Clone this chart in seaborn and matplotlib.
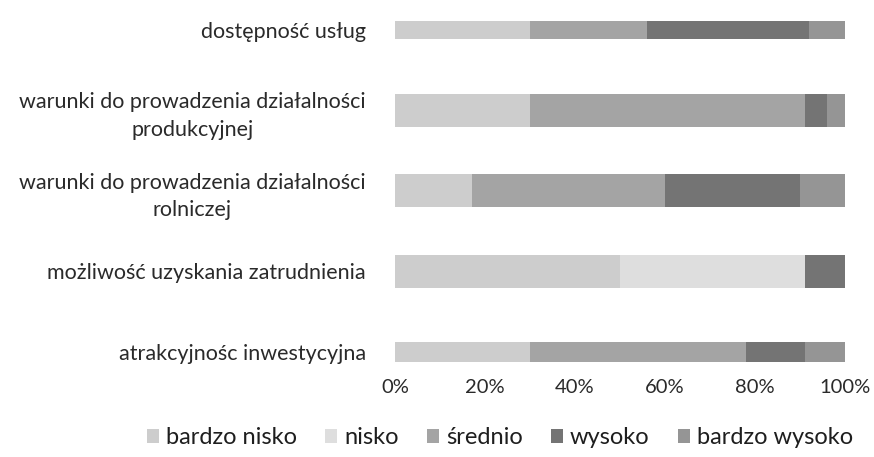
import matplotlib
matplotlib.use("Agg")
import matplotlib.pyplot as plt
import seaborn as sns
import numpy as np
import pandas as pd
from matplotlib.patches import Patch

categories = [
    "dostępność usług",
    "warunki do prowadzenia działalności\nprodukcyjnej",
    "warunki do prowadzenia działalności\nrolniczej",
    "możliwość uzyskania zatrudnienia",
    "atrakcyjnośc inwestycyjna",
]
series_names = ["bardzo nisko", "nisko", "średnio", "wysoko", "bardzo wysoko"]
bardzo_nisko = [30, 30, 17, 50, 30]
nisko = [0, 0, 0, 41, 0]
srednio = [26, 61, 43, 0, 48]
wysoko = [36, 5, 30, 9, 13]
bardzo_wysoko = [8, 4, 10, 0, 9]
tick_labels = ["0%", "20%", "40%", "60%", "80%", "100%"]

colors = ["#cdcdcd", "#dedede", "#a4a4a4", "#747474", "#959595"]

sns.set_theme(style="white")
plt.rcParams["font.family"] = ["Lato", "DejaVu Sans"]

fig = plt.figure(figsize=(8.74, 4.57), dpi=100)
ax = fig.add_axes([395 / 874, 1 - 372 / 457, 450 / 874, 367 / 457])

series = [bardzo_nisko, nisko, srednio, wysoko, bardzo_wysoko]
cum = np.cumsum(np.array(series, dtype=float), axis=0) / 100.0

# draw from total down so each layer covers the previous
for i in range(len(series) - 1, -1, -1):
    df = pd.DataFrame({"cat": categories, "val": cum[i]})
    sns.barplot(data=df, x="val", y="cat", orient="h", color=colors[i],
                width=0.41, ax=ax, saturation=1, linewidth=0)

# top and bottom bars appear thinner in the reference
thin = {0: 0.22, 4: 0.25}
for p in ax.patches:
    yc = p.get_y() + p.get_height() / 2
    idx = int(round(yc))
    if idx in thin:
        h = thin[idx]
        p.set_y(yc - h / 2)
        p.set_height(h)

ax.set_xlim(0, 1)
ax.set_ylim(4.25, -0.31)
ax.set_xticks(np.linspace(0, 1, 6))
ax.set_xticklabels(tick_labels)
ax.set_xlabel("")
ax.set_ylabel("")
for s in ax.spines.values():
    s.set_visible(False)
ax.tick_params(axis="x", length=0, pad=5, labelsize=14.5, labelcolor="#2a2a2a")
ax.tick_params(axis="y", length=0, pad=21, labelsize=15.5, labelcolor="#2a2a2a")
for t in ax.get_yticklabels():
    t.set_multialignment("center")
    t.set_linespacing(1.45)

handles = [Patch(facecolor=c, edgecolor="none") for c in colors]
fig.legend(handles, series_names, loc="center", bbox_to_anchor=(0.572, 1 - 438 / 457),
           ncol=5, frameon=False, fontsize=17, handlelength=0.5, handleheight=0.5,
           handletextpad=0.3, columnspacing=1.2, labelcolor="#1e1e1e")

fig.savefig("out.png", dpi=100)
